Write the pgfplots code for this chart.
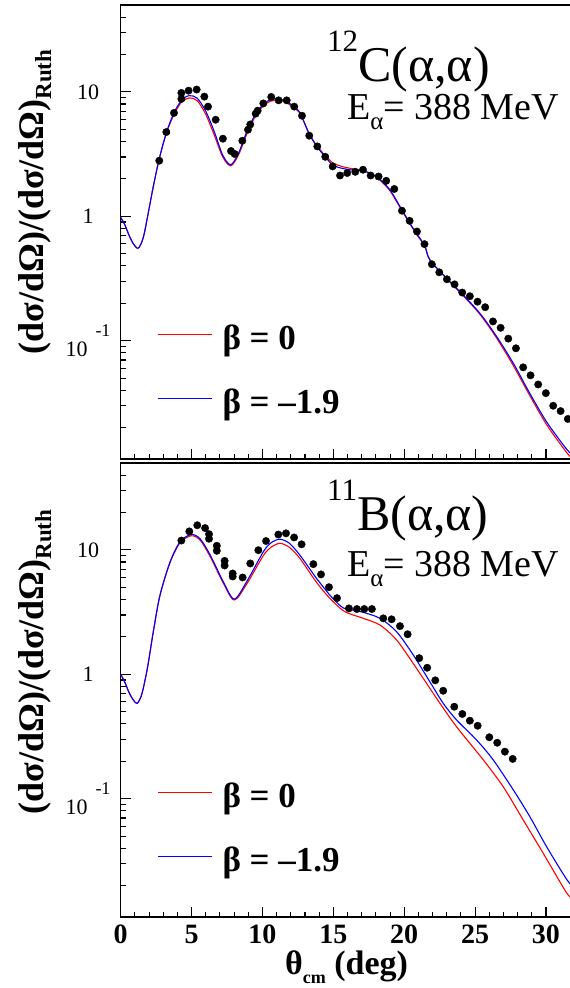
\documentclass[border=0pt]{standalone}
\usepackage{fontspec}
\setmainfont{Liberation Serif}
\usepackage{pgfplots}
\pgfplotsset{compat=1.18}
\newcommand{\fs}[1]{\fontsize{#1}{#1}\selectfont}

\pgfplotsset{
  legend image code/.code={\path[draw=none,fill=none] (0pt,-8pt) rectangle (63pt,25pt); \draw[line width=1.1pt,#1] (0pt,3pt) -- (54pt,3pt);},
  every axis/.append style={
    scale only axis, width=450.8pt, height=454pt,
    xmin=0, xmax=31.8, ymin=0.0112, ymax=50,
    xtick={0,5,...,30}, minor x tick num=4,
    ytick={0.1,1,10},
    minor ytick={0.02,0.03,0.04,0.05,0.06,0.07,0.08,0.09,0.2,0.3,0.4,0.5,0.6,0.7,0.8,0.9,2,3,4,5,6,7,8,9,20,30,40},
    yticklabels={{10\hspace{8pt}\raisebox{20pt}{\fs{18}-1}},{1},{10}},
    xtick pos=bottom, ytick pos=left,
    tick align=inside,
    major tick length=10pt, minor tick length=5pt,
    tick style={black, line width=1.1pt},
    axis line style={line width=1.3pt, black},
    yticklabel style={font=\fs{22}, anchor=center, xshift=-32.7pt, inner sep=0pt},
    xticklabel style={font=\bfseries\fs{28}, anchor=north, yshift=-8pt, inner sep=0pt},
    /pgf/number format/assume math mode=true,
    legend style={draw=none, fill=none, inner sep=0pt, outer sep=0pt,
      at={(0.0805,0.322)}, anchor=north west, font=\bfseries\fs{35},
      row sep=24pt},
    legend cell align=left,
  },
}

\begin{document}
\begin{tikzpicture}[x=1pt,y=1pt]
% ---------------- top panel: 12C
\begin{axis}[ymode=log, at={(120.7pt,529pt)}, anchor=south west, xticklabels={}]
\addlegendimage{red}
\addlegendentry{β = 0}
\addlegendimage{blue}
\addlegendentry{β = –1.9}
\addplot[red, line width=1.1pt, smooth, tension=0.5, forget plot] table {
0 0.98
0.3 0.85
0.6 0.70
0.9 0.60
1.24 0.555
1.6 0.68
2.0 1.15
2.3 1.74
2.72 2.9
3.22 4.65
3.76 6.6
4.3 8.3
4.84 8.95
5.4 8.5
6.0 6.6
6.6 4.5
7.2 3.0
7.76 2.55
8.3 3.1
8.9 4.6
9.5 6.4
10.1 7.8
10.6 8.45
11.14 8.56
11.7 8.2
12.2 7.45
12.65 6.7
13.3 4.6
13.87 3.65
14.41 3.1
14.99 2.68
15.7 2.5
16.3 2.42
16.76 2.37
17.6 2.22
18.3 1.95
19.0 1.6
19.7 1.18
20.4 0.87
20.9 0.71
21.45 0.575
21.81 0.445
22.99 0.316
24.16 0.23
25.34 0.163
26.52 0.105
27.7 0.063
28.86 0.0362
30.04 0.0212
31.33 0.0132
31.8 0.0114
};
\addplot[blue, line width=1.1pt, smooth, tension=0.5, forget plot] table {
0 0.98
0.3 0.85
0.6 0.70
0.9 0.60
1.24 0.555
1.6 0.68
2.0 1.15
2.3 1.74
2.72 2.9
3.22 4.7
3.76 6.8
4.3 8.6
4.84 9.34
5.4 8.9
6.0 7.0
6.6 4.8
7.2 3.1
7.76 2.6
8.3 3.2
8.9 4.8
9.5 6.6
10.1 8.0
10.6 8.7
11.14 8.8
11.7 8.4
12.2 7.6
12.65 6.8
13.3 4.6
13.87 3.6
14.41 3.03
14.99 2.57
15.7 2.42
16.3 2.36
16.76 2.34
17.6 2.23
18.3 1.97
19.0 1.63
19.7 1.20
20.4 0.88
20.9 0.72
21.45 0.58
21.81 0.447
22.99 0.318
24.16 0.233
25.34 0.166
26.52 0.108
27.7 0.0658
28.86 0.0377
30.04 0.0223
31.33 0.0140
31.8 0.0122
};
\addplot[only marks, mark=*, mark size=3.7pt, black, forget plot] table {
2.72 2.80
3.22 4.76
3.76 6.78
4.28 8.79
4.28 9.82
4.79 10.24
5.36 10.45
5.90 9.17
6.16 7.62
6.70 5.98
7.21 4.21
7.78 3.35
8.04 3.17
8.58 4.05
8.98 4.97
9.14 5.48
9.52 6.69
9.66 7.07
10.06 8.09
10.62 9.12
11.14 8.56
11.71 8.56
12.24 7.62
12.79 6.44
13.30 4.45
13.87 3.65
14.43 3.01
14.95 2.52
15.47 2.13
15.98 2.23
16.55 2.28
17.09 2.37
17.63 2.13
18.19 2.09
18.73 1.93
19.30 1.66
19.84 1.11
20.38 0.92
20.90 0.755
21.43 0.598
21.95 0.412
22.47 0.355
23.01 0.312
23.55 0.284
24.09 0.244
24.63 0.228
25.17 0.206
25.71 0.186
26.26 0.143
26.80 0.127
27.34 0.104
27.88 0.0869
28.39 0.0611
28.91 0.0527
29.45 0.0445
29.99 0.0379
30.51 0.0300
31.03 0.0272
31.54 0.0235
};
\end{axis}
% ---------------- bottom panel: 11B
\begin{axis}[ymode=log, at={(120.7pt,71pt)}, anchor=south west]
\addlegendimage{red}
\addlegendentry{β = 0}
\addlegendimage{blue}
\addlegendentry{β = –1.9}
\addplot[red, line width=1.1pt, smooth, tension=0.5, forget plot] table {
0 1.0
0.3 0.86
0.6 0.71
0.9 0.62
1.17 0.585
1.5 0.70
1.9 1.15
2.3 2.2
2.77 4.3
3.48 7.9
4.18 11.4
4.96 13.0
5.6 12.0
6.32 8.8
7.24 5.4
8.01 3.96
8.88 5.3
10.06 9.0
10.6 10.5
11.23 11.3
11.9 10.5
12.64 8.55
13.82 5.48
14.76 4.08
15.7 3.25
16.4 3.0
17.11 2.82
18.29 2.49
19.46 1.89
20.64 1.22
21.81 0.772
22.52 0.585
23.69 0.379
25.58 0.205
26.98 0.125
28.39 0.0676
29.8 0.0365
31.4 0.0179
31.8 0.0160
};
\addplot[blue, line width=1.1pt, smooth, tension=0.5, forget plot] table {
0 1.0
0.3 0.86
0.6 0.71
0.9 0.62
1.17 0.585
1.5 0.70
1.9 1.15
2.3 2.2
2.77 4.33
3.48 8.0
4.18 11.6
4.96 13.3
5.6 12.3
6.32 9.08
7.24 5.54
8.01 4.03
8.88 5.54
10.06 9.66
10.6 11.4
11.23 12.2
11.9 11.3
12.64 9.08
13.82 5.9
14.9 4.15
15.7 3.42
16.4 3.28
17.11 3.15
18.29 2.82
19.46 2.2
20.64 1.43
21.81 0.871
22.75 0.585
23.69 0.43
25.1 0.297
26.28 0.205
27.69 0.118
28.86 0.0718
30.04 0.0412
31.4 0.0230
31.8 0.0203
};
\addplot[only marks, mark=*, mark size=3.7pt, black, forget plot] table {
4.28 11.9
4.84 14.1
5.40 15.8
5.95 15.0
6.23 13.4
6.23 12.3
6.78 10.8
6.78 9.84
7.33 8.17
7.33 7.50
7.90 6.47
7.90 6.12
8.60 6.01
9.14 7.79
9.71 9.96
10.25 11.8
11.12 13.3
11.66 13.6
12.23 12.6
12.76 11.1
13.59 7.69
14.13 6.36
14.69 5.02
15.26 4.10
16.10 3.39
16.66 3.35
17.18 3.35
17.72 3.35
18.52 2.82
19.11 2.77
19.70 2.44
20.24 2.10
21.06 1.35
21.62 1.13
22.19 0.895
22.75 0.738
23.53 0.549
24.10 0.480
24.63 0.424
25.18 0.386
26.00 0.312
26.56 0.282
27.10 0.239
27.65 0.209
};
\end{axis}
% ---------------- texts
\node[anchor=base west, inner sep=0pt] at (327,906) {\fs{50}\raisebox{30pt}{\fs{31}12}C(α,α)};
\node[anchor=base west, inner sep=0pt] at (347,868) {\fs{38}E\raisebox{-10pt}{\fs{25}α}= 388 MeV};
\node[anchor=base west, inner sep=0pt] at (327,457) {\fs{50}\raisebox{30pt}{\fs{31}11}B(α,α)};
\node[anchor=base west, inner sep=0pt] at (347,411) {\fs{38}E\raisebox{-10pt}{\fs{25}α}= 388 MeV};
\node[rotate=90, anchor=base, inner sep=0pt] at (43,786) {\bfseries\fs{36}(dσ/dΩ)/(dσ/dΩ)\raisebox{-8pt}{\fs{23}Ruth}};
\node[rotate=90, anchor=base, inner sep=0pt] at (43,326) {\bfseries\fs{36}(dσ/dΩ)/(dσ/dΩ)\raisebox{-8pt}{\fs{23}Ruth}};
\node[anchor=base, inner sep=0pt] at (346.5,13) {\bfseries\fs{34}θ\raisebox{-9pt}{\fs{18}cm} (deg)};
\pgfresetboundingbox
\useasboundingbox (0,0) rectangle (570,988);
\end{tikzpicture}
\end{document}
